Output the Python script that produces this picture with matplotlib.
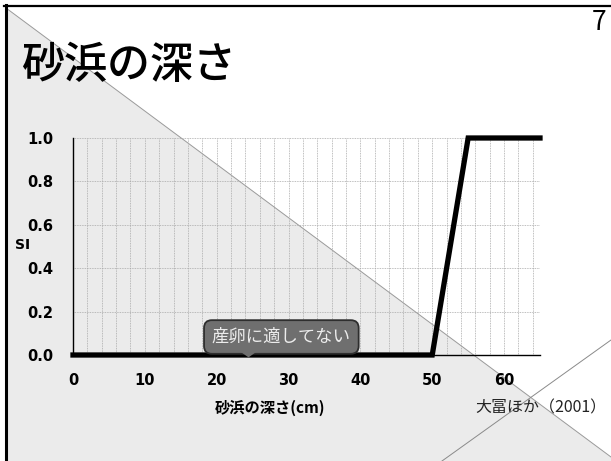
import matplotlib.pyplot as plt
import matplotlib.patches as mpatches
import numpy as np

plt.rcParams['font.family'] = ['Noto Sans CJK JP', 'DejaVu Sans']

# suitability index vs sand depth
depth = [0, 50, 55, 65]
si = [0.0, 0.0, 1.0, 1.0]

x_ticks = [0, 10, 20, 30, 40, 50, 60]
y_ticks = [0.0, 0.2, 0.4, 0.6, 0.8, 1.0]

W, H = 611, 461
fig = plt.figure(figsize=(W / 100, H / 100), dpi=100)
fig.patch.set_facecolor('white')

def px(x, y):
    # pixel (top-left origin) -> figure fraction
    return (x / W, 1 - y / H)

def fig_line(p0, p1, **kw):
    (x0, y0), (x1, y1) = px(*p0), px(*p1)
    fig.add_artist(plt.Line2D([x0, x1], [y0, y1], transform=fig.transFigure, **kw))

# slide background: grey triangle under the diagonal
tri = mpatches.Polygon([px(6, 8), px(611, 457), px(611, 461), px(6, 461)],
                       closed=True, transform=fig.transFigure,
                       facecolor='#ebebeb', edgecolor='none', zorder=-3)
fig.add_artist(tri)
fig_line((6, 8), (611, 457), color='#9a9a9a', lw=0.7, zorder=-2)
fig_line((442, 461), (611, 340), color='#8a8a8a', lw=0.7, zorder=-2)

# slide border (left and top)
fig_line((5.5, 5), (5.5, 461), color='black', lw=2.2, zorder=2)
fig_line((4, 6), (611, 6), color='black', lw=1.6, zorder=2)

fig.text(*px(21, 66), '砂浜の深さ', fontsize=31, fontweight='medium',
         ha='left', va='center', color='black')
fig.text(*px(606, 22), '7', fontsize=19, ha='right', va='center', color='black')

ax = fig.add_axes([73 / W, 1 - 355 / H, (540 - 73) / W, (355 - 138) / H], zorder=1)
ax.patch.set_alpha(0)

ax.plot(depth, si, color='black', lw=3.8, solid_joinstyle='miter', clip_on=False, zorder=5)

ax.set_xlim(0, 65)
ax.set_ylim(0, 1.0)
ax.set_xticks(x_ticks)
ax.set_xticks(np.arange(0, 65, 2), minor=True)
ax.set_yticks(y_ticks)
ax.set_yticklabels(['%.1f' % v for v in y_ticks])
ax.grid(True, which='both', axis='x', color='#a8a8a8', linestyle=(0, (1, 1)), lw=0.6)
ax.grid(True, which='major', axis='y', color='#a8a8a8', linestyle=(0, (1, 1)), lw=0.6)
ax.tick_params(which='both', length=0)
ax.tick_params(axis='x', pad=13)
ax.tick_params(axis='y', pad=14)
for lab in ax.get_xticklabels() + ax.get_yticklabels():
    lab.set_fontfamily(['DejaVu Sans'])
    lab.set_fontweight('bold')
    lab.set_fontsize(10.5)

for s in ['top', 'right']:
    ax.spines[s].set_visible(False)
ax.spines['left'].set_linewidth(1.0)
ax.spines['bottom'].set_linewidth(1.0)

fig.text(*px(22.5, 245), 'SI', fontsize=10, fontweight='bold', ha='center', va='center',
         family=['DejaVu Sans'])
fig.text(*px(270, 408), '砂浜の深さ(cm)', fontsize=11, fontweight='bold', ha='center', va='center')
fig.text(*px(606, 408), '大冨ほか（2001）', fontsize=11.5, ha='right', va='center', color='#222222')

# callout box with a small pointer underneath
ax.text(29.0, 0.083, '産卵に適してない', fontsize=12.5, color='#ececec', ha='center', va='center',
        zorder=7,
        bbox=dict(boxstyle='round,pad=0.45,rounding_size=0.45', facecolor='#6f6f6f',
                  edgecolor='#2e2e2e', lw=1.3))
pointer = [(-1.0, 0.35), (1.0, 0.35), (0.0, -0.35)]
ax.plot([24.4], [0.01], marker=pointer, markersize=16, color='#6f6f6f',
        markeredgecolor='#6f6f6f', markeredgewidth=0, clip_on=False, zorder=8)

fig.savefig('out.png', dpi=100)
